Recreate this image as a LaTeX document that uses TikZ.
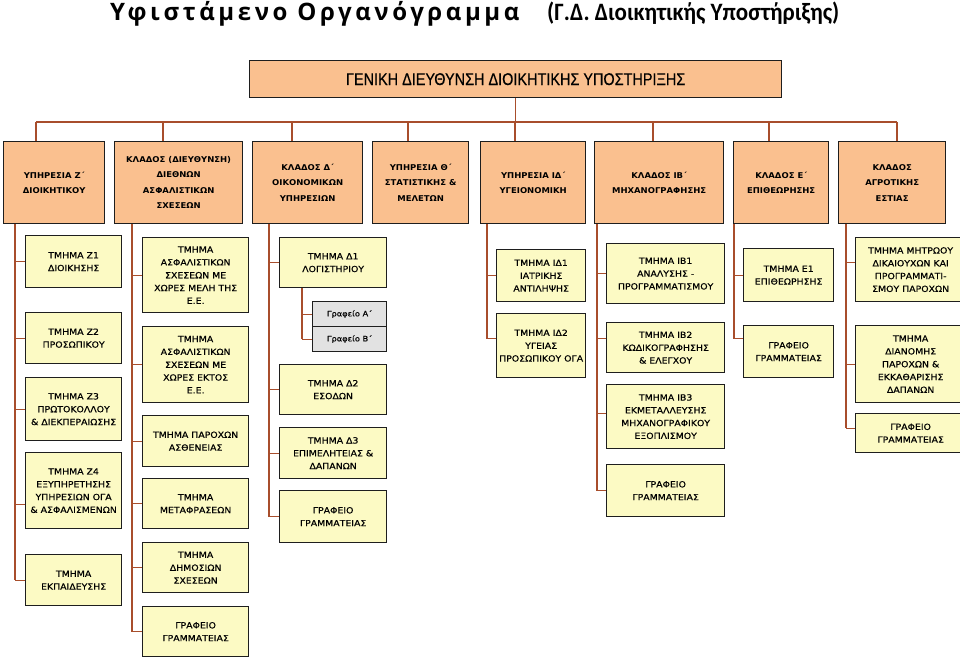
\documentclass[tikz,border=0pt]{standalone}
\usepackage{fontspec}
\setmainfont{DejaVu Sans}
\newfontfamily\titlefont[LetterSpace=15]{Open Sans}
\newfontfamily\subtitlefont[FakeStretch=0.92]{Carlito}
\newfontfamily\gdfont[FakeStretch=0.85, FakeBold=0.4]{Liberation Sans}
\newfontfamily\headfont[FakeStretch=1.06]{DejaVu Sans}
\newfontfamily\unitfont[FakeStretch=1.1, FakeBold=0.5]{DejaVu Sans}

\definecolor{headfill}{RGB}{250,192,143}
\definecolor{unitfill}{RGB}{252,250,196}
\definecolor{officefill}{RGB}{226,226,226}
\definecolor{linkbrown}{RGB}{168,78,44}
\definecolor{boxline}{RGB}{30,30,30}

\begin{document}
\begin{tikzpicture}[x=1pt, y=-1pt]

    % Define styles
    \tikzset{
        link/.style={draw=linkbrown, line width=1.1pt},
        gdbox/.style={draw=boxline, fill=headfill, line width=1.3pt, anchor=north west, inner sep=0pt,
            minimum width=532pt, minimum height=37pt, font=\gdfont\fontsize{17}{17}\selectfont},
        headbox/.style 2 args={draw=boxline, fill=headfill, line width=1.3pt, anchor=north west, inner sep=0pt,
            minimum width=#1pt, minimum height=#2pt, align=center, font=\headfont\bfseries\fontsize{8}{15.5}\selectfont},
        unitbox/.style 2 args={draw=boxline, fill=unitfill, line width=1.3pt, anchor=north west, inner sep=0pt,
            minimum width=#1pt, minimum height=#2pt, align=center, font=\unitfont\fontsize{8.5}{12.8}\selectfont},
        officebox/.style={unitbox={74}{25}, fill=officefill, font=\unitfont\fontsize{7.5}{9}\selectfont},
        lifted/.style={execute at end node={\\[#1]\mbox{}}},
        lifted/.default=1pt
    }

    \useasboundingbox (0,0) rectangle (960,659);

    % 1. Title
    \node[anchor=base west, inner sep=0pt, font=\titlefont\bfseries\fontsize{24}{24}\selectfont] (title) at (110,20) {Υφιστάμενο Οργανόγραμμα};
    \node[anchor=base west, inner sep=0pt, font=\subtitlefont\bfseries\fontsize{25}{25}\selectfont] (subtitle) at (547,20) {(Γ.Δ. Διοικητικής Υποστήριξης)};

    % 2. General directorate
    \node[gdbox] (gd) at (249,60) {ΓΕΝΙΚΗ ΔΙΕΥΘΥΝΣΗ ΔΙΟΙΚΗΤΙΚΗΣ ΥΠΟΣΤΗΡΙΞΗΣ};

    % 3. Second level
    \node[headbox={101}{82}] (hz) at (3,141) {ΥΠΗΡΕΣΙΑ Ζ΄\\ΔΙΟΙΚΗΤΙΚΟΥ};
    \node[headbox={128}{82}] (hdi) at (114,141) {ΚΛΑΔΟΣ (ΔΙΕΥΘΥΝΣΗ)\\ΔΙΕΘΝΩΝ\\ΑΣΦΑΛΙΣΤΙΚΩΝ\\ΣΧΕΣΕΩΝ};
    \node[headbox={110}{82}] (hd) at (252,141) {ΚΛΑΔΟΣ Δ΄\\ΟΙΚΟΝΟΜΙΚΩΝ\\ΥΠΗΡΕΣΙΩΝ};
    \node[headbox={96}{82}] (hth) at (372,141) {ΥΠΗΡΕΣΙΑ Θ΄\\ΣΤΑΤΙΣΤΙΚΗΣ \&\\ΜΕΛΕΤΩΝ};
    \node[headbox={105}{82}] (hid) at (480,141) {ΥΠΗΡΕΣΙΑ ΙΔ΄\\ΥΓΕΙΟΝΟΜΙΚΗ};
    \node[headbox={129}{82}, lifted=-4pt] (hib) at (594,141) {ΚΛΑΔΟΣ ΙΒ΄\\ΜΗΧΑΝΟΓΡΑΦΗΣΗΣ};
    \node[headbox={95}{82}] (he) at (733,141) {ΚΛΑΔΟΣ Ε΄\\ΕΠΙΘΕΩΡΗΣΗΣ};
    \node[headbox={107}{82}] (hag) at (838,141) {ΚΛΑΔΟΣ\\ΑΓΡΟΤΙΚΗΣ\\ΕΣΤΙΑΣ};

    % Bus
    \coordinate (busL) at (36,122);
    \coordinate (busR) at (897,122);
    \draw[link] (gd.south) -- (gd.south |- busL);
    \draw[link] (busL) -- (busR);
    \foreach \x/\n in {36/hz, 163/hdi, 292/hd, 408/hth, 515/hid, 653/hib, 769/he, 897/hag} {
        \coordinate (tap-\n) at (\x,122);
        \draw[link] (tap-\n) -- (tap-\n |- \n.north);
    }

    % 4. Ypiresia Z
    \node[unitbox={96}{52}, lifted] (z1) at (25,235) {ΤΜΗΜΑ Ζ1\\ΔΙΟΙΚΗΣΗΣ};
    \node[unitbox={96}{51}, lifted] (z2) at (25,312) {ΤΜΗΜΑ Ζ2\\ΠΡΟΣΩΠΙΚΟΥ};
    \node[unitbox={96}{63}, lifted] (z3) at (25,377) {ΤΜΗΜΑ Ζ3\\ΠΡΩΤΟΚΟΛΛΟΥ\\\& ΔΙΕΚΠΕΡΑΙΩΣΗΣ};
    \node[unitbox={96}{76}, lifted] (z4) at (25,452) {ΤΜΗΜΑ Ζ4\\ΕΞΥΠΗΡΕΤΗΣΗΣ\\ΥΠΗΡΕΣΙΩΝ ΟΓΑ\\\& ΑΣΦΑΛΙΣΜΕΝΩΝ};
    \node[unitbox={96}{51}, lifted] (z5) at (25,554) {ΤΜΗΜΑ\\ΕΚΠΑΙΔΕΥΣΗΣ};

    \coordinate (trunk-z) at (15,0);
    \foreach \n/\dy in {z1/0, z2/0, z3/0, z4/-14, z5/0} {
        \coordinate (in-\n) at ([yshift=\dy pt]\n.west);
        \draw[link] (trunk-z |- in-\n) -- (in-\n);
    }
    \draw[link] (trunk-z |- hz.south) -- (trunk-z |- in-z5);

    % 5. Diethnon asfalistikon sxeseon
    \node[unitbox={106}{75}] (di1) at (142,237) {ΤΜΗΜΑ\\ΑΣΦΑΛΙΣΤΙΚΩΝ\\ΣΧΕΣΕΩΝ ΜΕ\\ΧΩΡΕΣ ΜΕΛΗ ΤΗΣ\\Ε.Ε.};
    \node[unitbox={106}{76}] (di2) at (142,326) {ΤΜΗΜΑ\\ΑΣΦΑΛΙΣΤΙΚΩΝ\\ΣΧΕΣΕΩΝ ΜΕ\\ΧΩΡΕΣ ΕΚΤΟΣ\\Ε.Ε.};
    \node[unitbox={106}{51}] (di3) at (142,415) {ΤΜΗΜΑ ΠΑΡΟΧΩΝ\\ΑΣΘΕΝΕΙΑΣ};
    \node[unitbox={106}{50}] (di4) at (142,478) {ΤΜΗΜΑ\\ΜΕΤΑΦΡΑΣΕΩΝ};
    \node[unitbox={106}{50}] (di5) at (142,542) {ΤΜΗΜΑ\\ΔΗΜΟΣΙΩΝ\\ΣΧΕΣΕΩΝ};
    \node[unitbox={106}{50}] (di6) at (142,606) {ΓΡΑΦΕΙΟ\\ΓΡΑΜΜΑΤΕΙΑΣ};

    \coordinate (trunk-di) at (132,0);
    \foreach \n in {di1, di2, di3, di4, di5, di6}
        \draw[link] (trunk-di |- \n.west) -- (\n.west);
    \draw[link] (trunk-di |- hdi.south) -- (trunk-di |- di6.west);

    % 6. Oikonomikon ypiresion
    \node[unitbox={107}{50}] (d1) at (279,237) {ΤΜΗΜΑ Δ1\\ΛΟΓΙΣΤΗΡΙΟΥ};
    \node[officebox] (ga) at (312,301) {Γραφείο Α΄};
    \node[officebox] (gb) at (312,326) {Γραφείο Β΄};
    \node[unitbox={107}{50}, lifted=2pt] (d2) at (279,364) {ΤΜΗΜΑ Δ2\\ΕΣΟΔΩΝ};
    \node[unitbox={107}{51}] (d3) at (279,427) {ΤΜΗΜΑ Δ3\\ΕΠΙΜΕΛΗΤΕΙΑΣ \&\\ΔΑΠΑΝΩΝ};
    \node[unitbox={107}{52}] (d4) at (279,490) {ΓΡΑΦΕΙΟ\\ΓΡΑΜΜΑΤΕΙΑΣ};

    \coordinate (trunk-d) at (269,0);
    \foreach \n in {d1, d2, d3, d4}
        \draw[link] (trunk-d |- \n.west) -- (\n.west);
    \draw[link] (trunk-d |- hd.south) -- (trunk-d |- d4.west);

    % Grafeia under D1
    \coordinate (trunk-d1) at (302,0);
    \foreach \n in {ga, gb}
        \draw[link] (trunk-d1 |- \n.west) -- (\n.west);
    \draw[link] (trunk-d1 |- d1.south) -- (trunk-d1 |- gb.west);

    % 7. Ygeionomiki
    \node[unitbox={89}{52}] (id1) at (496,249) {ΤΜΗΜΑ ΙΔ1\\ΙΑΤΡΙΚΗΣ\\ΑΝΤΙΛΗΨΗΣ};
    \node[unitbox={89}{64}] (id2) at (496,313) {ΤΜΗΜΑ ΙΔ2\\ΥΓΕΙΑΣ\\ΠΡΟΣΩΠΙΚΟΥ ΟΓΑ};

    \coordinate (trunk-id) at (487,0);
    \foreach \n/\dy in {id1/0, id2/7} {
        \coordinate (in-\n) at ([yshift=\dy pt]\n.west);
        \draw[link] (trunk-id |- in-\n) -- (in-\n);
    }
    \draw[link] (trunk-id |- hid.south) -- (trunk-id |- in-id2);

    % 8. Michanografisis
    \node[unitbox={118}{60}, lifted=-4pt] (ib1) at (606,243) {ΤΜΗΜΑ ΙΒ1\\ΑΝΑΛΥΣΗΣ -\\ΠΡΟΓΡΑΜΜΑΤΙΣΜΟΥ};
    \node[unitbox={118}{50}, lifted=-4pt] (ib2) at (606,322) {ΤΜΗΜΑ ΙΒ2\\ΚΩΔΙΚΟΓΡΑΦΗΣΗΣ\\\& ΕΛΕΓΧΟΥ};
    \node[unitbox={118}{64}, lifted=-4pt] (ib3) at (606,384) {ΤΜΗΜΑ ΙΒ3\\ΕΚΜΕΤΑΛΛΕΥΣΗΣ\\ΜΗΧΑΝΟΓΡΑΦΙΚΟΥ\\ΕΞΟΠΛΙΣΜΟΥ};
    \node[unitbox={118}{52}] (ib4) at (606,464) {ΓΡΑΦΕΙΟ\\ΓΡΑΜΜΑΤΕΙΑΣ};

    \coordinate (trunk-ib) at (597,0);
    \foreach \n/\dy in {ib1/0, ib2/9, ib3/3, ib4/0} {
        \coordinate (in-\n) at ([yshift=\dy pt]\n.west);
        \draw[link] (trunk-ib |- in-\n) -- (in-\n);
    }
    \draw[link] (trunk-ib |- hib.south) -- (trunk-ib |- in-ib4);

    % 9. Epitheorisis
    \node[unitbox={90}{53}] (e1) at (743,248) {ΤΜΗΜΑ Ε1\\ΕΠΙΘΕΩΡΗΣΗΣ};
    \node[unitbox={90}{52}, lifted=2pt] (e2) at (743,325) {ΓΡΑΦΕΙΟ\\ΓΡΑΜΜΑΤΕΙΑΣ};

    \coordinate (trunk-e) at (734,0);
    \foreach \n/\dy in {e1/0, e2/13} {
        \coordinate (in-\n) at ([yshift=\dy pt]\n.west);
        \draw[link] (trunk-e |- in-\n) -- (in-\n);
    }
    \draw[link] (trunk-e |- he.south) -- (trunk-e |- in-e2);

    % 10. Agrotikis estias
    \node[unitbox={110}{64}] (ag1) at (855,237) {ΤΜΗΜΑ ΜΗΤΡΩΟΥ\\ΔΙΚΑΙΟΥΧΩΝ ΚΑΙ\\ΠΡΟΓΡΑΜΜΑΤΙ-\\ΣΜΟΥ ΠΑΡΟΧΩΝ};
    \node[unitbox={110}{77}] (ag2) at (855,325) {ΤΜΗΜΑ\\ΔΙΑΝΟΜΗΣ\\ΠΑΡΟΧΩΝ \&\\ΕΚΚΑΘΑΡΙΣΗΣ\\ΔΑΠΑΝΩΝ};
    \node[unitbox={110}{39}] (ag3) at (855,413) {ΓΡΑΦΕΙΟ\\ΓΡΑΜΜΑΤΕΙΑΣ};

    \coordinate (trunk-ag) at (846,0);
    \foreach \n/\dy in {ag1/7, ag2/0, ag3/5} {
        \coordinate (in-\n) at ([yshift=\dy pt]\n.west);
        \draw[link] (trunk-ag |- in-\n) -- (in-\n);
    }
    \draw[link] (trunk-ag |- hag.south) -- (trunk-ag |- in-ag3);

\end{tikzpicture}
\end{document}
